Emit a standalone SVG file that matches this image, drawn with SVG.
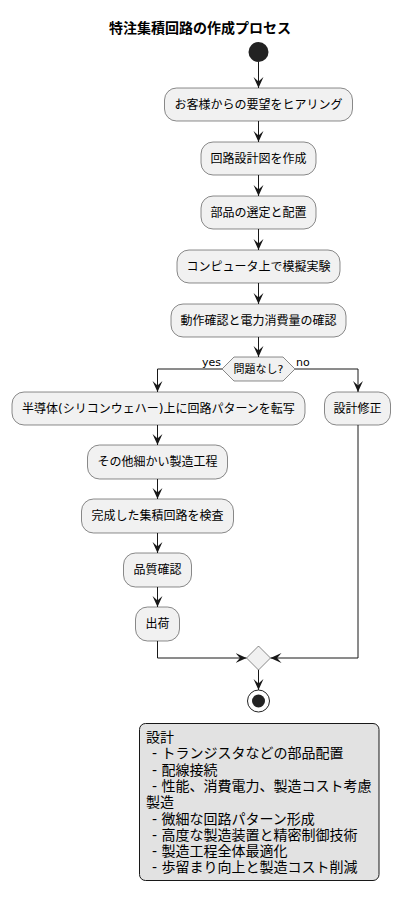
<svg xmlns="http://www.w3.org/2000/svg" width="402" height="904" viewBox="0 0 402 904">
<style>
text{font-family:"DejaVu Sans","Noto Sans CJK JP",sans-serif;fill:#000}
.t{font-size:12px;text-anchor:middle}
.box{fill:#f1f1f1;stroke:#181818;stroke-width:0.5}
.ln{fill:none;stroke:#181818;stroke-width:1}
.lbl{font-size:11px}
.note{font-size:14px}
</style>
<defs>
<marker id="ah" viewBox="0 0 10 10" markerWidth="11" markerHeight="11" refX="10" refY="5" orient="auto" markerUnits="userSpaceOnUse">
<path d="M0,0.5 L10,5 L0,9.5 L4,5 z" fill="#181818"/>
</marker>
</defs>
<rect width="402" height="904" fill="#fff"/>
<text x="200" y="33" style="font-size:14px;font-weight:bold;text-anchor:middle">特注集積回路の作成プロセス</text>

<g id="connectors">
<path class="ln" d="M258.5,62 V88" marker-end="url(#ah)"/>
<path class="ln" d="M258.5,121 V142" marker-end="url(#ah)"/>
<path class="ln" d="M258.5,175 V196" marker-end="url(#ah)"/>
<path class="ln" d="M258.5,229 V250" marker-end="url(#ah)"/>
<path class="ln" d="M258.5,283 V304" marker-end="url(#ah)"/>
<path class="ln" d="M258.5,337 V357" marker-end="url(#ah)"/>
<path class="ln" d="M222,369 H157.5 V392" marker-end="url(#ah)"/>
<path class="ln" d="M295,369 H358 V392" marker-end="url(#ah)"/>
<path class="ln" d="M157.5,425 V445" marker-end="url(#ah)"/>
<path class="ln" d="M157.5,479 V499" marker-end="url(#ah)"/>
<path class="ln" d="M157.5,533 V553" marker-end="url(#ah)"/>
<path class="ln" d="M157.5,587 V607" marker-end="url(#ah)"/>
<path class="ln" d="M157.5,641 V658 H246.5" marker-end="url(#ah)"/>
<path class="ln" d="M358,425 V658 H270.5" marker-end="url(#ah)"/>
<path class="ln" d="M258.5,670 V690" marker-end="url(#ah)"/>
<text class="lbl" x="202" y="366">yes</text>
<text class="lbl" x="296" y="366">no</text>
</g>

<g id="start"><circle cx="258.5" cy="52" r="10" fill="#222"/></g>
<g id="n1"><rect class="box" x="164.5" y="88" width="188" height="33" rx="12"/><text class="t" x="258.5" y="109">お客様からの要望をヒアリング</text></g>
<g id="n2"><rect class="box" x="201" y="142" width="115" height="33" rx="12"/><text class="t" x="258.5" y="163">回路設計図を作成</text></g>
<g id="n3"><rect class="box" x="201" y="196" width="115" height="33" rx="12"/><text class="t" x="258.5" y="217">部品の選定と配置</text></g>
<g id="n4"><rect class="box" x="177" y="250" width="163" height="33" rx="12"/><text class="t" x="258.5" y="271">コンピュータ上で模擬実験</text></g>
<g id="n5"><rect class="box" x="171" y="304" width="175" height="33" rx="12"/><text class="t" x="258.5" y="325">動作確認と電力消費量の確認</text></g>
<g id="d1"><polygon class="box" points="222,369 234,357 283,357 295,369 283,381 234,381"/><text class="lbl" x="258.5" y="373" text-anchor="middle">問題なし?</text></g>
<g id="n6"><rect class="box" x="12" y="392" width="293" height="33" rx="12"/><text class="t" x="158.5" y="413">半導体(シリコンウェハー)上に回路パターンを転写</text></g>
<g id="n7"><rect class="box" x="324.5" y="392" width="66" height="33" rx="12"/><text class="t" x="357.5" y="413">設計修正</text></g>
<g id="n8"><rect class="box" x="87.5" y="445" width="140" height="34" rx="12"/><text class="t" x="157.5" y="466">その他細かい製造工程</text></g>
<g id="n9"><rect class="box" x="81.5" y="499" width="152" height="34" rx="12"/><text class="t" x="157.5" y="520">完成した集積回路を検査</text></g>
<g id="n10"><rect class="box" x="123.5" y="553" width="68" height="34" rx="12"/><text class="t" x="157.5" y="574">品質確認</text></g>
<g id="n11"><rect class="box" x="135.5" y="607" width="44" height="34" rx="12"/><text class="t" x="157.5" y="628">出荷</text></g>
<g id="merge"><polygon class="box" points="258.5,646 270.5,658 258.5,670 246.5,658"/></g>
<g id="end"><circle cx="258.5" cy="701" r="11" fill="#fff" stroke="#222" stroke-width="1"/><circle cx="258.5" cy="701" r="6.5" fill="#222"/></g>
<g id="note">
<rect x="139.5" y="723.5" width="239.5" height="157" rx="6" fill="#e2e2e2" stroke="#181818" stroke-width="1"/>
<text class="note" x="146" y="742">設計</text>
<text class="note" x="152" y="758.3">- トランジスタなどの部品配置</text>
<text class="note" x="152" y="774.6">- 配線接続</text>
<text class="note" x="152" y="790.9">- 性能、消費電力、製造コスト考慮</text>
<text class="note" x="146" y="807.2">製造</text>
<text class="note" x="152" y="823.5">- 微細な回路パターン形成</text>
<text class="note" x="152" y="839.8">- 高度な製造装置と精密制御技術</text>
<text class="note" x="152" y="856.1">- 製造工程全体最適化</text>
<text class="note" x="152" y="872.4">- 歩留まり向上と製造コスト削減</text>
</g>
</svg>
